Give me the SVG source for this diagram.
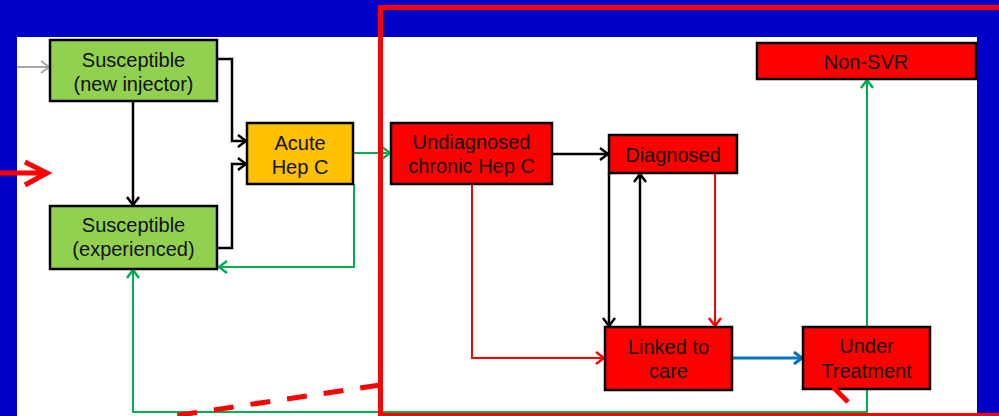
<svg xmlns="http://www.w3.org/2000/svg" width="999" height="416" viewBox="0 0 999 416">
<style>
.node{stroke:#000;stroke-width:2.5}
.g{fill:#92D050}.o{fill:#FFC000}.r{fill:#FF0000}
text{font-family:"Liberation Sans",Arial,sans-serif;font-size:20px;fill:#111;text-anchor:middle}
.c{fill:none;stroke-linejoin:miter}
.k{stroke:#000;stroke-width:2.5}
.gr{stroke:#00B050;stroke-width:2}
.rd{stroke:#FF0000;stroke-width:2}
.bl{stroke:#0070C0;stroke-width:3}
.gy{stroke:#A6A6A6;stroke-width:2}
.ann{fill:none;stroke:#FF0000;stroke-width:5}
</style>
<defs>
<marker id="ak" markerUnits="userSpaceOnUse" viewBox="0 0 10 14" refX="9" refY="7" markerWidth="10" markerHeight="14" orient="auto"><path d="M1,1 L9,7 L1,13" fill="none" stroke="#000" stroke-width="2.5"/></marker>
<marker id="ag" markerUnits="userSpaceOnUse" viewBox="0 0 10 14" refX="9" refY="7" markerWidth="10" markerHeight="14" orient="auto"><path d="M1,1 L9,7 L1,13" fill="none" stroke="#00B050" stroke-width="2.5"/></marker>
<marker id="ar" markerUnits="userSpaceOnUse" viewBox="0 0 10 14" refX="9" refY="7" markerWidth="10" markerHeight="14" orient="auto"><path d="M1,1 L9,7 L1,13" fill="none" stroke="#FF0000" stroke-width="2.5"/></marker>
<marker id="ab" markerUnits="userSpaceOnUse" viewBox="0 0 10 14" refX="9" refY="7" markerWidth="10" markerHeight="14" orient="auto"><path d="M1,1 L9,7 L1,13" fill="none" stroke="#0070C0" stroke-width="3"/></marker>
<marker id="ay" markerUnits="userSpaceOnUse" viewBox="0 0 10 14" refX="9" refY="7" markerWidth="10" markerHeight="14" orient="auto"><path d="M1,1 L9,7 L1,13" fill="none" stroke="#A6A6A6" stroke-width="2"/></marker>
</defs>
<rect x="0" y="0" width="999" height="416" fill="#0000C8"/>
<rect x="17" y="37" width="960" height="379" fill="#FFFFFF"/>

<g id="connectors">
<path class="c gy" d="M17,67 H49" marker-end="url(#ay)"/>
<path class="c k" d="M217,59 H232 V141 H246" marker-end="url(#ak)"/>
<path class="c k" d="M217,248 H232 V164 H246" marker-end="url(#ak)"/>
<path class="c k" d="M133,101 V205" marker-end="url(#ak)"/>
<path class="c gr" d="M353,153 H390" marker-end="url(#ag)"/>
<path class="c gr" d="M354,184 V267 H219" marker-end="url(#ag)"/>
<path class="c k" d="M552,154 H608" marker-end="url(#ak)"/>
<path class="c k" d="M609,173 V326" marker-end="url(#ak)"/>
<path class="c k" d="M640,327 V174" marker-end="url(#ak)"/>
<path class="c rd" d="M715,173 V326" marker-end="url(#ar)"/>
<path class="c rd" d="M472,184 V358 H604" marker-end="url(#ar)"/>
<path class="c bl" d="M732,358 H802" marker-end="url(#ab)"/>
<path class="c gr" d="M867,327 V80" marker-end="url(#ag)"/>
<path class="c gr" d="M867,389 V412 H133 V270" marker-end="url(#ag)"/>
</g>

<g id="susceptible-new">
<rect class="node g" x="50" y="40" width="167" height="61"/>
<text x="133.5" y="67">Susceptible</text>
<text x="133.5" y="91">(new injector)</text>
</g>
<g id="susceptible-experienced">
<rect class="node g" x="50" y="206" width="167" height="63"/>
<text x="133.5" y="232">Susceptible</text>
<text x="133.5" y="256">(experienced)</text>
</g>
<g id="acute">
<rect class="node o" x="247" y="123" width="106" height="61"/>
<text x="300" y="150">Acute</text>
<text x="300" y="174">Hep C</text>
</g>
<g id="undiagnosed">
<rect class="node r" x="391" y="123" width="161" height="61"/>
<text x="471.5" y="149">Undiagnosed</text>
<text x="471.5" y="173">chronic Hep C</text>
</g>
<g id="diagnosed">
<rect class="node r" x="609" y="135" width="128" height="38"/>
<text x="673" y="162">Diagnosed</text>
</g>
<g id="non-svr">
<rect class="node r" x="757" y="43" width="219" height="36"/>
<text x="866" y="69">Non-SVR</text>
</g>
<g id="linked">
<rect class="node r" x="605" y="327" width="127" height="63"/>
<text x="668.5" y="354">Linked to</text>
<text x="668.5" y="378">care</text>
</g>
<g id="under-treatment">
<rect class="node r" x="803" y="327" width="127" height="62"/>
<text x="866.5" y="353">Under</text>
<text x="866.5" y="378">Treatment</text>
</g>

<g id="annotations">
<rect class="ann" x="380.5" y="7.5" width="625" height="408"/>
<path class="ann" d="M380,385 L173,416" stroke-dasharray="20 17"/>
<path class="ann" d="M0,173 H46 M25,162 L47,173 L25,185" stroke-width="4.5"/>
<path class="ann" d="M833,387 L848,402"/>
</g>
</svg>
